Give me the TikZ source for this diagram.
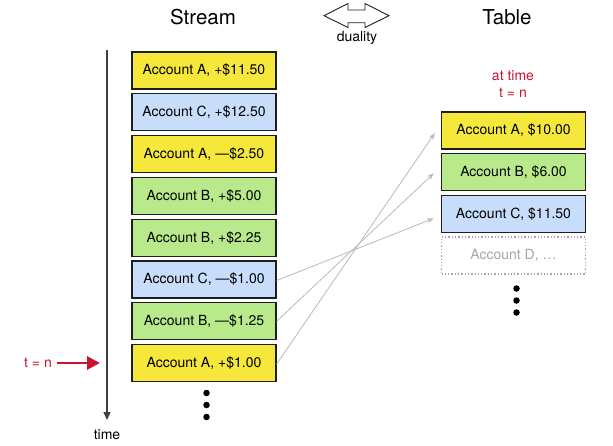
\documentclass[tikz,border=0pt]{standalone}
\usepackage{fontspec}
\setmainfont{TeX Gyre Heros}
\usetikzlibrary{arrows.meta,calc}
\definecolor{accy}{RGB}{245,232,58}
\definecolor{accb}{RGB}{199,221,250}
\definecolor{accg}{RGB}{184,234,140}
\definecolor{redc}{RGB}{200,20,50}
\definecolor{linec}{RGB}{30,30,30}
\tikzset{
  acc/.style={draw=linec, line width=1.3pt, minimum width=144pt, minimum height=37pt, inner sep=0pt, font=\fontsize{14}{16}\selectfont},
  yel/.style={acc, fill=accy},
  blu/.style={acc, fill=accb},
  grn/.style={acc, fill=accg},
  ghost/.style={draw=gray!70, dotted, line width=1.3pt, minimum width=144pt, minimum height=37pt, inner sep=0pt, text=gray!70, font=\fontsize{14}{16}\selectfont},
  title/.style={font=\fontsize{20.5}{24}\selectfont, inner sep=0pt},
  small/.style={font=\fontsize{14}{16}\selectfont, inner sep=0pt},
  dot/.style={circle, fill=black, minimum size=6.5pt, inner sep=0pt},
  conn/.style={draw=gray!55, line width=0.8pt, -{Stealth[length=7pt,width=5pt]}},
}
\begin{document}
\begin{tikzpicture}[x=1pt,y=-1pt]
\useasboundingbox (0,0) rectangle (613,445);
% titles
\node[title] (stream) at (203,17) {Stream};
\node[title] (table) at (507,17) {Table};
% duality arrow
\draw[line width=0.9pt, line join=miter, fill=white, draw=linec]
  (324,15.7) -- (348,3.5) -- (348,10) -- (365,10) -- (365,3.5) -- (389,15.7)
  -- (365,27.5) -- (365,22.7) -- (348,22.7) -- (348,27.5) -- cycle;
\node[small] (dual) at (357,38) {duality};
% at time
\node[small, text=redc, align=center] (attime) at (513,84) {at time\\[1pt]t = n};
% time axis
\coordinate (ttop) at (107,50);
\coordinate (tbot) at (107,420);
\draw[draw=black!75, line width=1.3pt, -{Triangle[length=8pt,width=7pt]}] (ttop) -- (tbot);
\node[small] (timelbl) at (107,435) {time};
% stream
\node[yel] (s1) at (204,70.5) {Account A, +\$11.50};
\node[blu] (s2) at (204,112.3) {Account C, +\$12.50};
\node[yel] (s3) at (204,154.1) {Account A, —\$2.50};
\node[grn] (s4) at (204,195.9) {Account B, +\$5.00};
\node[grn] (s5) at (204,237.7) {Account B, +\$2.25};
\node[blu] (s6) at (204,279.5) {Account C, —\$1.00};
\node[grn] (s7) at (204,321.3) {Account B, —\$1.25};
\node[yel] (s8) at (204,363) {Account A, +\$1.00};
\node[dot] (sd1) at (206.5,393) {};
\node[dot] (sd2) at (206.5,405) {};
\node[dot] (sd3) at (206.5,417) {};
% t = n
\node[small, text=redc] (tn) at (38,363) {t = n};
\coordinate (tnend) at (100,363);
\draw[draw=redc, line width=2.8pt, -{Triangle[length=13pt,width=13pt]}] ([xshift=5pt]tn.east) -- (tnend);
% table
\node[yel] (t1) at (513.5,130.5) {Account A, \$10.00};
\node[grn] (t2) at (513.5,172.2) {Account B, \$6.00};
\node[blu] (t3) at (513.5,213.8) {Account C, \$11.50};
\node[ghost] (t4) at (513.5,255.5) {Account D, …};
\node[dot] (td1) at (516.5,288.5) {};
\node[dot] (td2) at (516.5,300.5) {};
\node[dot] (td3) at (516.5,312.5) {};
% connectors
\draw[conn] ([yshift=-1pt]s6.east) -- ([shift={(-7,4.5)}]t3.west);
\draw[conn] (s7.east) -- ([shift={(-7,1)}]t2.west);
\draw[conn] ([yshift=-1pt]s8.east) -- ([shift={(-6,2.5)}]t1.west);
\end{tikzpicture}
\end{document}
